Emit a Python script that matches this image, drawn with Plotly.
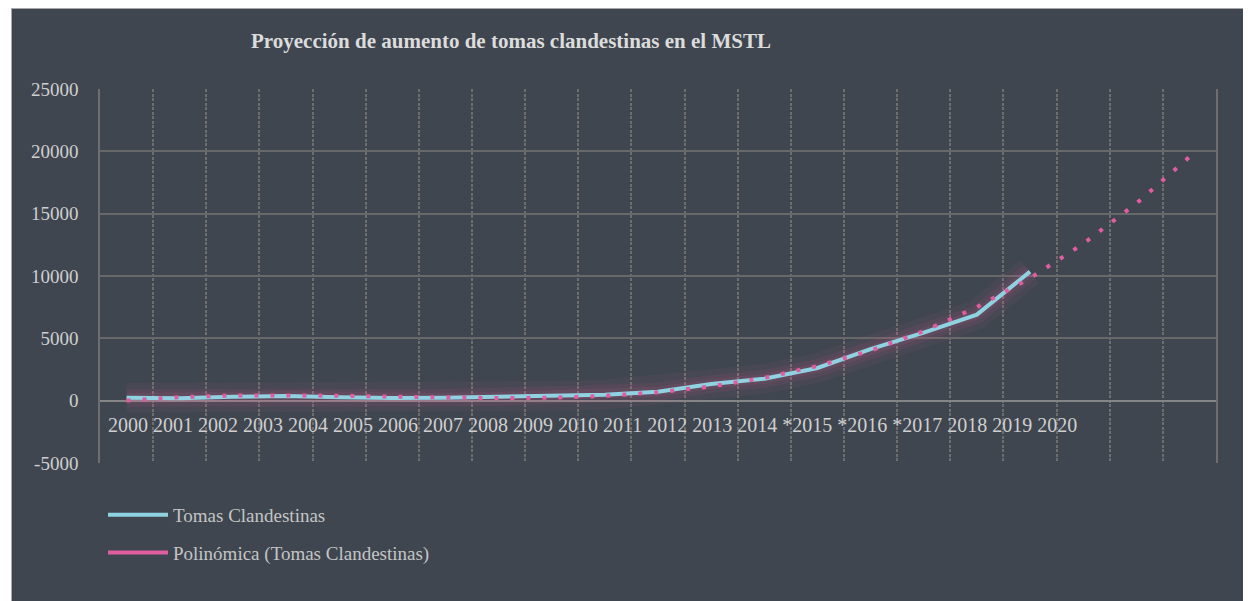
import numpy as np
import plotly.graph_objects as go

# ---- data ----
year_labels = ["2000", "2001", "2002", "2003", "2004", "2005", "2006", "2007",
               "2008", "2009", "2010", "2011", "2012", "2013", "2014", "*2015",
               "*2016", "*2017", "2018", "2019", "2020"]
tomas = [230, 190, 320, 375, 270, 215, 240, 320, 400, 480, 720, 1330,
         1760, 2620, 4130, 5450, 6900, 10350]
y_ticks = [-5000, 0, 5000, 10000, 15000, 20000, 25000]
y_tick_labels = ["-5000", "0", "5000", "10000", "15000", "20000", "25000"]
forecast_periods = 3
poly_order = 3

# ---- derived ----
x_data = np.arange(len(tomas))
x_all = np.arange(len(tomas) + forecast_periods)
coef = np.polyfit(x_data, tomas, poly_order)
trend = np.polyval(coef, x_all)

BG = "#3f4650"
GRID = "#686868"
VGRID = "#6e6e6e"
BLUE = "#8fd3e3"
PINK = "#e05e9f"
FONT = "Liberation Serif"

# page body has an 8px margin; figure sized to fill the rest of the window
OFF = 8
W, H = 1251 - OFF, 601 - OFF
# plot area in window pixels
PX0, PX1, PY0, PY1 = 100, 1216, 89, 463
L, R, T, B = PX0 - OFF, 1251 - PX1, PY0 - OFF, 601 - PY1
pw, ph = PX1 - PX0, PY1 - PY0


def px(xw):
    return (xw - PX0) / pw


def py(yw):
    return (PY1 - yw) / ph


fig = go.Figure()

# glow layers (pink soft glow)
for w, a in [(30, 0.06), (18, 0.08), (10, 0.10)]:
    fig.add_trace(go.Scatter(x=x_data, y=tomas, mode="lines",
                             line=dict(color=f"rgba(224,94,159,{a})", width=w),
                             hoverinfo="skip", showlegend=False))

fig.add_trace(go.Scatter(x=x_data, y=tomas, mode="lines",
                         name="Tomas Clandestinas",
                         line=dict(color=BLUE, width=4),
                         legendgroup="a", legendrank=1))
fig.add_trace(go.Scatter(x=x_all, y=trend, mode="lines",
                         name="Polinómica (Tomas Clandestinas)",
                         line=dict(color=PINK, width=4, dash="4px,12px"),
                         legendgroup="b", showlegend=False, hoverinfo="skip"))
# legend entry for the trendline (drawn solid in the source legend)
fig.add_trace(go.Scatter(x=[None], y=[None], mode="lines",
                         name="Polinómica (Tomas Clandestinas)",
                         line=dict(color=PINK, width=4),
                         legendgroup="b", legendrank=2))

fig.update_layout(
    width=W, height=H,
    margin=dict(l=L, r=R, t=T, b=B),
    paper_bgcolor="white",
    plot_bgcolor=BG,
    title=dict(text="Proyección de aumento de tomas clandestinas en el MSTL",
               x=(511 - OFF) / W, xanchor="center", xref="container",
               y=1 - (41 - OFF) / H, yanchor="middle", yref="container",
               font=dict(family=FONT, size=21, color="#dcdcdc", weight="bold")),
    font=dict(family=FONT, color="#c8c8c8", size=19),
    showlegend=True,
    legend=dict(orientation="v", x=px(103), xanchor="left",
                y=py(496), yanchor="top",
                bgcolor="rgba(0,0,0,0)",
                font=dict(family=FONT, size=19, color="#c4c4c4"),
                traceorder="grouped", tracegroupgap=10, itemwidth=60),
    shapes=[dict(type="rect", xref="paper", yref="paper", layer="below",
                 x0=px(11.5), x1=px(1252),
                 y0=py(602), y1=py(8.5),
                 fillcolor=BG, line=dict(color="#a8a8a8", width=1))],
)

fig.update_xaxes(range=[-0.5, len(x_all) - 0.5],
                 tickvals=[i - 0.5 for i in range(len(x_all) + 1)],
                 showticklabels=False, showgrid=True, gridcolor=VGRID,
                 gridwidth=1.5, griddash="3px,1.5px", zeroline=False, showline=False)
fig.update_yaxes(range=[-5000, 25000], tickvals=y_ticks, ticktext=y_tick_labels,
                 showgrid=True, gridcolor=GRID, gridwidth=1.5, zeroline=True,
                 zerolinecolor="#858585", zerolinewidth=1.5,
                 ticks="outside", ticklen=16, tickcolor="rgba(0,0,0,0)",
                 tickfont=dict(family=FONT, size=19, color="#cfcfcf"),
                 showline=True, mirror=True, linecolor=VGRID, linewidth=1.5)

# category labels (as rendered in the source: a single run of text)
fig.add_annotation(text=" ".join(year_labels), xref="paper", yref="paper",
                   x=px(106), xanchor="left",
                   y=py(425), yanchor="middle",
                   showarrow=False, font=dict(family=FONT, size=20, color="#cfcfcf"))

fig.write_html("out.html")
